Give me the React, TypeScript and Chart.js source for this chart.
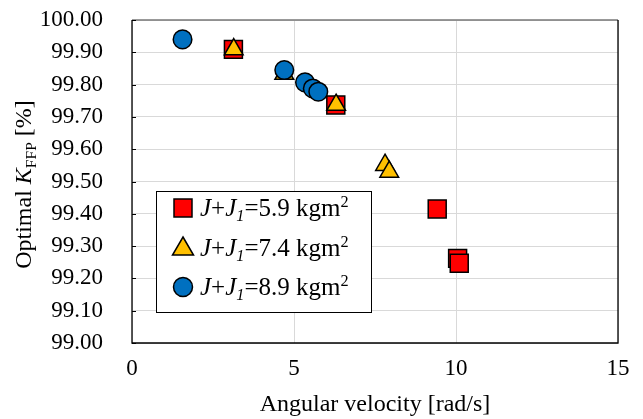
import React, { useEffect, useRef } from "react";
import { Chart, registerables } from "chart.js";

Chart.register(...registerables);

const seriesLabels = ["5.9", "7.4", "8.9"];
const squareX = [3.13, 6.29, 9.42, 10.05, 10.1];
const squareY = [99.909, 99.737, 99.415, 99.262, 99.247];
const triangleX = [3.14, 4.7, 6.3, 7.81, 7.94];
const triangleY = [99.909, 99.833, 99.737, 99.551, 99.53];
const circleX = [1.56, 4.7, 5.34, 5.58, 5.75];
const circleY = [99.94, 99.845, 99.807, 99.788, 99.778];
const xTicks = [0, 5, 10, 15];
const yMin = 99.0;
const yMax = 100.0;
const yStep = 0.1;

const FONT = "'Liberation Serif', 'Times New Roman', serif";
const RED = "#FF0000";
const YELLOW = "#FFC000";
const BLUE = "#0070C0";

type Seg = { t: string; it?: boolean; sub?: boolean; sup?: boolean };

function segWidth(ctx: CanvasRenderingContext2D, s: Seg, size: number) {
  const sz = s.sub || s.sup ? size * 0.65 : size;
  ctx.font = `${s.it ? "italic " : ""}${sz}px ${FONT}`;
  return ctx.measureText(s.t).width;
}

function drawRich(ctx: CanvasRenderingContext2D, segs: Seg[], x: number, y: number, size: number, align: "left" | "center") {
  let total = 0;
  for (const s of segs) total += segWidth(ctx, s, size);
  let cx = align === "center" ? x - total / 2 : x;
  ctx.textBaseline = "alphabetic";
  ctx.textAlign = "left";
  ctx.fillStyle = "#000";
  for (const s of segs) {
    const w = segWidth(ctx, s, size);
    let dy = 0;
    if (s.sub) dy = size * 0.2;
    if (s.sup) dy = -size * 0.35;
    ctx.fillText(s.t, cx, y + dy);
    cx += w;
  }
}

function pts(xs: number[], ys: number[]) {
  return xs.map((x, i) => ({ x, y: ys[i] }));
}

const overlay = {
  id: "overlay",
  beforeDatasetsDraw(chart: any) {
    const { ctx, chartArea: a } = chart;
    ctx.save();
    ctx.lineWidth = 1.3;
    ctx.strokeStyle = "#777";
    ctx.beginPath();
    ctx.moveTo(a.left, a.top);
    ctx.lineTo(a.right, a.top);
    ctx.stroke();
    ctx.strokeStyle = "#000";
    ctx.beginPath();
    ctx.moveTo(a.right, a.top);
    ctx.lineTo(a.right, a.bottom);
    ctx.lineTo(a.left, a.bottom);
    ctx.lineTo(a.left, a.top);
    ctx.stroke();
    const ys = chart.scales.y;
    ctx.lineWidth = 1;
    for (let v = yMin; v <= yMax + 1e-9; v += yStep) {
      const py = Math.round(ys.getPixelForValue(v)) + 0.5;
      ctx.beginPath();
      ctx.moveTo(a.left, py);
      ctx.lineTo(a.left + 4, py);
      ctx.stroke();
    }
    ctx.restore();
  },
  afterDraw(chart: any) {
    const { ctx, chartArea: a } = chart;
    ctx.save();
    drawRich(ctx, [{ t: "Angular velocity [rad/s]" }], (a.left + a.right) / 2, 411, 24, "center");
    ctx.translate(31, (a.top + a.bottom) / 2 + 3);
    ctx.rotate(-Math.PI / 2);
    drawRich(
      ctx,
      [{ t: "Optimal " }, { t: "K", it: true }, { t: "FFP", sub: true }, { t: " [%]" }],
      0,
      0,
      24,
      "center"
    );
    ctx.restore();

    ctx.save();
    const lx = 156, ly = 191, lw = 215, lh = 121;
    ctx.fillStyle = "#fff";
    ctx.fillRect(lx, ly, lw, lh);
    ctx.strokeStyle = "#000";
    ctx.lineWidth = 1;
    ctx.strokeRect(lx + 0.5, ly + 0.5, lw, lh);
    const rows = [208, 248, 287];
    const mx = 183;
    ctx.lineWidth = 1.5;
    ctx.strokeStyle = "#000";
    ctx.fillStyle = RED;
    ctx.beginPath();
    ctx.rect(mx - 9, rows[0] - 9, 18, 18);
    ctx.fill();
    ctx.stroke();
    ctx.fillStyle = YELLOW;
    ctx.beginPath();
    ctx.moveTo(mx, rows[1] - 11);
    ctx.lineTo(mx + 10.5, rows[1] + 7);
    ctx.lineTo(mx - 10.5, rows[1] + 7);
    ctx.closePath();
    ctx.fill();
    ctx.stroke();
    ctx.fillStyle = BLUE;
    ctx.beginPath();
    ctx.arc(mx, rows[2], 9.5, 0, Math.PI * 2);
    ctx.fill();
    ctx.stroke();
    seriesLabels.forEach((lab, i) => {
      drawRich(
        ctx,
        [
          { t: "J", it: true },
          { t: "+" },
          { t: "J", it: true },
          { t: "1", it: true, sub: true },
          { t: "=" + lab + " kgm" },
          { t: "2", sup: true },
        ],
        200,
        rows[i] + 8,
        25,
        "left"
      );
    });
    ctx.restore();
  },
};

export default function App() {
  const ref = useRef<HTMLCanvasElement | null>(null);
  useEffect(() => {
    if (!ref.current) return;
    const common = { borderColor: "#000", borderWidth: 1.5, showLine: false };
    const chart = new Chart(ref.current, {
      type: "scatter",
      data: {
        datasets: [
          {
            ...common,
            label: "J+J1=" + seriesLabels[0] + " kgm2",
            data: pts(squareX, squareY),
            pointStyle: "rect",
            pointRadius: 12.7,
            backgroundColor: RED,
            order: 3,
          },
          {
            ...common,
            label: "J+J1=" + seriesLabels[1] + " kgm2",
            data: pts(triangleX, triangleY),
            pointStyle: "triangle",
            pointRadius: 10.8,
            backgroundColor: YELLOW,
            order: 2,
          },
          {
            ...common,
            label: "J+J1=" + seriesLabels[2] + " kgm2",
            data: pts(circleX, circleY),
            pointStyle: "circle",
            pointRadius: 9.3,
            backgroundColor: BLUE,
            order: 1,
          },
        ],
      },
      options: {
        animation: false,
        responsive: false,
        events: [],
        layout: { padding: { top: 20, right: 25, left: 0, bottom: 0 } },
        plugins: { legend: { display: false }, tooltip: { enabled: false } },
        scales: {
          x: {
            type: "linear",
            min: 0,
            max: 15,
            afterBuildTicks: (s: any) => {
              s.ticks = xTicks.map((v) => ({ value: v }));
            },
            afterFit: (s: any) => {
              s.height = 76;
              s.paddingLeft = 0;
              s.paddingRight = 0;
            },
            grid: { color: "#d9d9d9", lineWidth: 1, drawTicks: false },
            border: { display: false },
            ticks: { color: "#000", font: { family: FONT, size: 23 }, padding: 12, maxRotation: 0, autoSkip: false },
          },
          y: {
            type: "linear",
            min: yMin,
            max: yMax,
            ticks: {
              stepSize: yStep,
              autoSkip: false,
              color: "#000",
              font: { family: FONT, size: 23 },
              padding: 29,
              callback: (v: any) => Number(v).toFixed(2),
            },
            afterFit: (s: any) => {
              s.width = 132;
              s.paddingTop = 0;
              s.paddingBottom = 0;
            },
            grid: { color: "#d9d9d9", lineWidth: 1, drawTicks: false },
            border: { display: false },
          },
        },
      },
      plugins: [overlay],
    } as any);
    return () => chart.destroy();
  }, []);
  return (
    <div style={{ position: "absolute", left: 0, top: 0, width: 643, height: 419, background: "#fff" }}>
      <canvas ref={ref} width={643} height={419} />
    </div>
  );
}
